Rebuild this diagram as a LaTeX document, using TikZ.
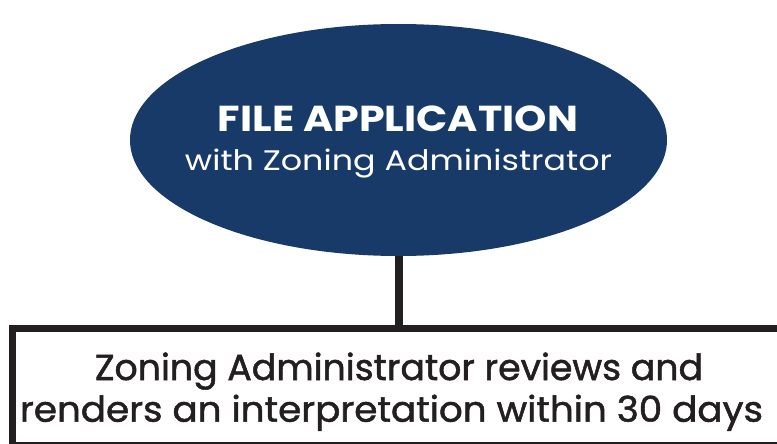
\documentclass[tikz,border=0pt]{standalone}
\usepackage{fontspec}
\setmainfont{Poppins}
\newfontfamily\medfont[FakeBold=1.4]{Poppins}
\usetikzlibrary{shapes.geometric}
\definecolor{navy}{HTML}{173A68}
\definecolor{ink}{HTML}{231F20}
\tikzset{
  appshape/.style={ellipse, fill=navy, minimum width=537pt, minimum height=232pt, inner sep=0pt},
  reviewbox/.style={draw=ink, line width=7pt, fill=white, minimum width=777.5pt, minimum height=116.7pt, inner sep=0pt},
  link/.style={draw=ink, line width=8pt},
  lbl/.style={anchor=base, inner sep=0pt},
}
\begin{document}
\begin{tikzpicture}[x=1pt,y=-1pt]
\useasboundingbox (0,0) rectangle (777,444);
\begin{scope}
\clip (0,0) rectangle (777,444);
\node[appshape] (app) at (398.5,140) {};
\node[reviewbox] (review) at (401.25,386.85) {};
\draw[link] (app.south) -- (app.south |- review.north);
\node[lbl, text=white] (t1) at (398,131.7) {\resizebox{360pt}{25.7pt}{\bfseries FILE APPLICATION}};
\node[lbl, text=white] (t2) at (398.5,171) {\resizebox{427pt}{21.5pt}{with Zoning Administrator}};
\node[lbl, text=ink] (t3) at (399,380) {\resizebox{608pt}{27.5pt}{\medfont Zoning Administrator reviews and}};
\node[lbl, text=ink] (t4) at (391.5,421.7) {\resizebox{743pt}{27pt}{\medfont renders an interpretation within 30 days}};
\end{scope}
\end{tikzpicture}
\end{document}
